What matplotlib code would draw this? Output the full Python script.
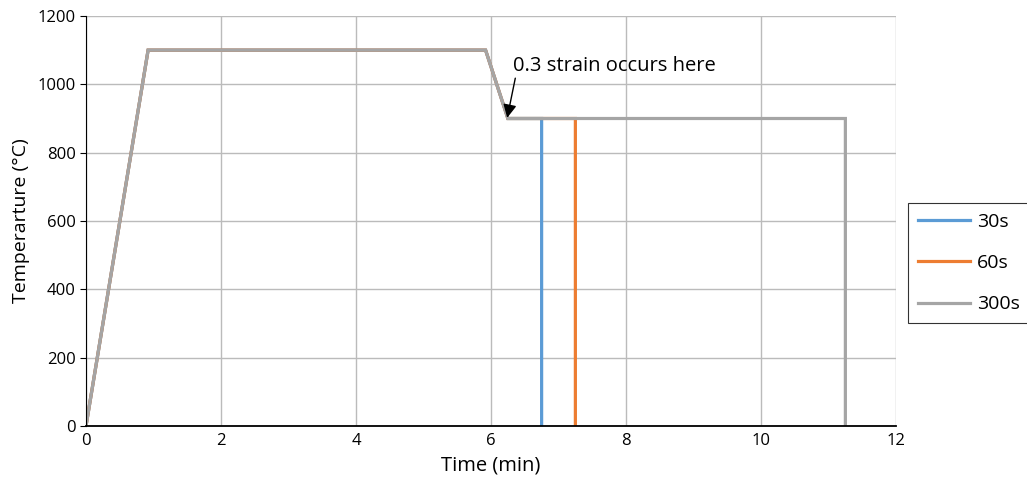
import matplotlib
matplotlib.use("Agg")
import matplotlib.pyplot as plt

plt.rcParams['font.family'] = ['Open Sans', 'DejaVu Sans']

labels = ["30s", "60s", "300s"]
colors = ["#5B9BD5", "#ED7D31", "#A5A5A5"]
t_30 = [0, 0.92, 5.92, 6.25, 6.75, 6.75]
T_30 = [0, 1100, 1100, 900, 900, 0]
t_60 = [0, 0.92, 5.92, 6.25, 7.25, 7.25]
T_60 = [0, 1100, 1100, 900, 900, 0]
t_300 = [0, 0.92, 5.92, 6.25, 11.25, 11.25]
T_300 = [0, 1100, 1100, 900, 900, 0]
xticks = [0, 2, 4, 6, 8, 10, 12]
yticks = [0, 200, 400, 600, 800, 1000, 1200]

fig = plt.figure(figsize=(10.27, 4.93), dpi=100)
ax = fig.add_axes([86/1027, 1-426/493, (896-86)/1027, (426-16)/493])

for t, T, lab, c in zip([t_30, t_60, t_300], [T_30, T_60, T_300], labels, colors):
    ax.plot(t, T, color=c, lw=2.3, label=lab, solid_joinstyle='miter')

ax.set_xlim(0, 12)
ax.set_ylim(0, 1200)
ax.set_xticks(xticks)
ax.set_yticks(yticks)
ax.grid(True, color="#BBBBBB", lw=1)
ax.set_axisbelow(True)
for s in ["top", "right"]:
    ax.spines[s].set_visible(False)
ax.spines["left"].set_color("black")
ax.spines["bottom"].set_color("black")
ax.spines["bottom"].set_linewidth(1.3)
ax.tick_params(axis='x', length=0, labelsize=12, pad=5)
ax.tick_params(axis='y', length=4, labelsize=12, direction='out')
ax.set_xlabel("Time (min)", fontsize=14.5, labelpad=5)
ax.set_ylabel("Temperarture (°C)", fontsize=14, labelpad=5)

ax.text(6.33, 1054, "0.3 strain occurs here", fontsize=14.5, va='center', ha='left')
ax.annotate("", xy=(6.24, 902), xytext=(6.36, 1018),
            arrowprops=dict(arrowstyle='-|>', color='black', lw=1, mutation_scale=20,
                            shrinkA=0, shrinkB=0))

leg = fig.legend(loc='center left', bbox_to_anchor=(908/1027, 1-263/493),
                 frameon=True, fancybox=False, edgecolor='black', fontsize=14,
                 handlelength=2.7, labelspacing=1.2, borderpad=0.5, handletextpad=0.35,
                 borderaxespad=0)
leg.get_frame().set_linewidth(0.8)

fig.savefig("out.png", dpi=100)
